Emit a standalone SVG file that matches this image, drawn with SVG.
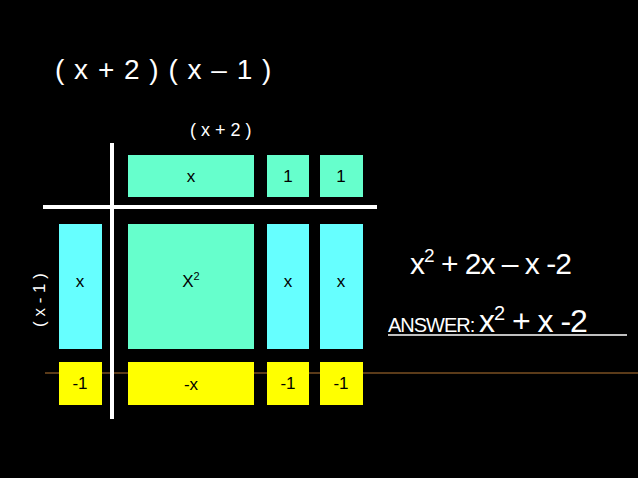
<svg xmlns="http://www.w3.org/2000/svg" width="638" height="478" viewBox="0 0 638 478">
<style>
.t{font-family:"Liberation Sans",Arial,sans-serif;fill:#000;font-size:17px;text-anchor:middle}
.w{font-family:"Liberation Sans",Arial,sans-serif;fill:#fff}
.g{fill:#66ffcc}.c{fill:#66ffff}.y{fill:#ffff00}
</style>
<rect width="638" height="478" fill="#000"/>
<line x1="45" y1="373" x2="638" y2="373" stroke="#7a4f22" stroke-width="1.5"/>
<text class="w" x="55" y="79" font-size="28" letter-spacing="1">( x + 2 ) ( x – 1 )</text>
<text class="w" x="190" y="136" font-size="18">( x + 2 )</text>
<text class="w" font-size="17" transform="translate(45,300) rotate(-90)" text-anchor="middle">( x - 1 )</text>
<g id="lines"><line x1="43" y1="207" x2="377" y2="207" stroke="#fff" stroke-width="4"/><line x1="112" y1="143" x2="112" y2="419" stroke="#fff" stroke-width="4"/></g>
<g id="top-x"><rect class="g" x="128" y="155" width="126" height="42"/><text class="t" x="191" y="182">x</text></g>
<g id="top-1a"><rect class="g" x="267" y="155" width="42" height="42"/><text class="t" x="288" y="182" font-size="14">1</text></g>
<g id="top-1b"><rect class="g" x="320" y="155" width="43" height="42"/><text class="t" x="341" y="182" font-size="14">1</text></g>
<g id="left-x"><rect class="c" x="59" y="224" width="43" height="125"/><text class="t" x="80" y="287">x</text></g>
<g id="x2"><rect class="g" x="128" y="224" width="126" height="125"/><text class="t" x="191" y="287">X<tspan font-size="11" dy="-7">2</tspan></text></g>
<g id="xa"><rect class="c" x="267" y="224" width="42" height="125"/><text class="t" x="288" y="287">x</text></g>
<g id="xb"><rect class="c" x="320" y="224" width="43" height="125"/><text class="t" x="341" y="287">x</text></g>
<g id="left-m1"><rect class="y" x="59" y="362" width="43" height="43"/><text class="t" x="80" y="389" font-size="14">-1</text></g>
<g id="mx"><rect class="y" x="128" y="362" width="126" height="43"/><text class="t" x="191" y="390">-x</text></g>
<g id="m1a"><rect class="y" x="267" y="362" width="42" height="43"/><text class="t" x="288" y="389" font-size="14">-1</text></g>
<g id="m1b"><rect class="y" x="320" y="362" width="43" height="43"/><text class="t" x="341" y="389" font-size="14">-1</text></g>
<text class="w" x="410" y="274" font-size="30" letter-spacing="-1">x<tspan font-size="19" dy="-12">2</tspan><tspan dy="12"> + 2x – x -2</tspan></text>
<text class="w" x="388" y="332" font-size="20" letter-spacing="-1">ANSWER: <tspan font-size="32">x</tspan><tspan font-size="20" dy="-12">2</tspan><tspan font-size="32" dy="12"> + x -2</tspan></text>
<line x1="388" y1="335" x2="627" y2="335" stroke="#fff" stroke-width="1.5"/>
</svg>
